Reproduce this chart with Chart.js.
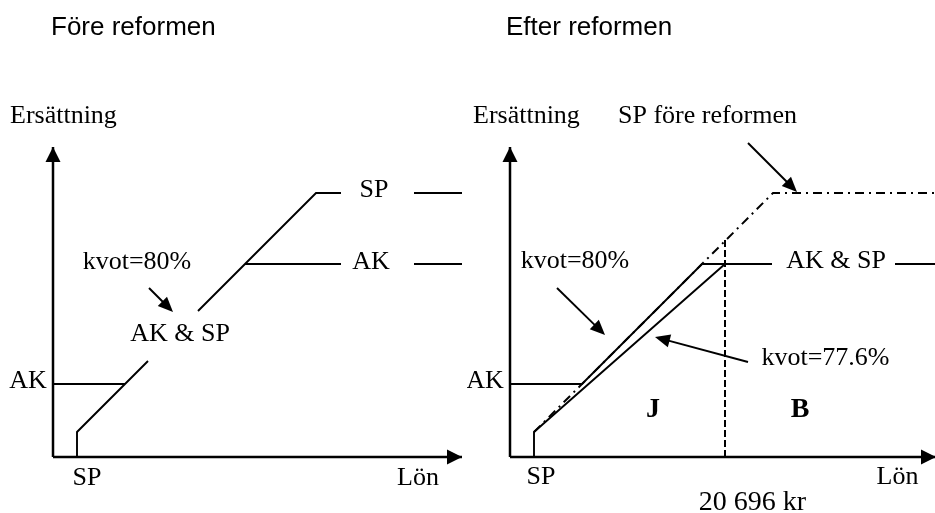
<!DOCTYPE html>
<html>
<head>
<meta charset="utf-8">
<script src="https://cdn.jsdelivr.net/npm/chart.js@4"></script>
<style>
    html, body { margin: 0; padding: 0; background: #fff; }
    #wrap { position: relative; width: 935px; height: 513px; overflow: hidden; }
    #fore { position: absolute; left: 0; top: 0; }
    #efter { position: absolute; left: 467px; top: 0; }
</style>
</head>
<body>
<div id="wrap">
    <canvas id="fore" width="467" height="513"></canvas>
    <canvas id="efter" width="468" height="513"></canvas>
</div>
<script>
// Schematiska kurvor, [lön, ersättning] (null = avbrott för text)
// Före reformen
const foreAxisX = [[0, 0], [40.9, 0]];
const foreAxisY = [[0, 0], [0, 31.0]];
const foreSP = [[2.4, 0], [2.4, 2.5], [9.5, 9.6], [9.5, null], [14.5, 14.6], [26.3, 26.4], [28.8, 26.4], [28.8, null], [36.1, 26.4], [40.9, 26.4]];
const foreAK = [[0, 7.3], [7.2, 7.3], [7.2, null], [19.2, 19.3], [28.8, 19.3], [28.8, null], [36.1, 19.3], [40.9, 19.3]];

// Efter reformen
const efterAxisX = [[0, 0], [42.6, 0]];
const efterAxisY = [[0, 0], [0, 31.0]];
const efterSP = [[2.4, 0], [2.4, 2.5], [21.5, 19.3], [26.2, 19.3], [26.2, null], [38.5, 19.3], [42.6, 19.3]];
const efterAK = [[0, 7.3], [7.2, 7.3], [19.2, 19.3], [26.2, 19.3]];
const spForeReformen = [[2.4, 2.5], [26.3, 26.4], [42.6, 26.4]];
const taket = [[21.5, 0], [21.5, 21.7]]; // 20 696 kr

const SERIF = '26px "Liberation Serif", "Times New Roman", serif';
const SANS = '26px "Liberation Sans", Arial, sans-serif';
const BOLD = 'bold 28px "Liberation Serif", "Times New Roman", serif';

function drawHead(ctx, x0, y0, x1, y1, len, half) {
    const a = Math.atan2(y1 - y0, x1 - x0);
    ctx.beginPath();
    ctx.moveTo(x1, y1);
    ctx.lineTo(x1 - len * Math.cos(a) + half * Math.sin(a), y1 - len * Math.sin(a) - half * Math.cos(a));
    ctx.lineTo(x1 - len * Math.cos(a) - half * Math.sin(a), y1 - len * Math.sin(a) + half * Math.cos(a));
    ctx.closePath();
    ctx.fill();
}

// Ritar pilar och texter i diagrammets koordinater
const diagramPlugin = {
    id: 'diagram',
    afterDatasetsDraw(chart, args, opts) {
        const ctx = chart.ctx;
        const px = v => chart.scales.x.getPixelForValue(v);
        const py = v => chart.scales.y.getPixelForValue(v);
        ctx.save();
        ctx.fillStyle = '#000';
        ctx.strokeStyle = '#000';

        // Pilspetsar på axlarna
        (opts.axes || []).forEach(a => {
            const n = a.length;
            drawHead(ctx, px(a[n - 2][0]), py(a[n - 2][1]), px(a[n - 1][0]), py(a[n - 1][1]), 15, 7.5);
        });

        // Pilar
        ctx.lineWidth = 1.9;
        (opts.arrows || []).forEach(a => {
            const x0 = px(a.from[0]), y0 = py(a.from[1]);
            const x1 = px(a.to[0]), y1 = py(a.to[1]);
            const ang = Math.atan2(y1 - y0, x1 - x0);
            ctx.beginPath();
            ctx.moveTo(x0, y0);
            ctx.lineTo(x1 - 12 * Math.cos(ang), y1 - 12 * Math.sin(ang));
            ctx.stroke();
            drawHead(ctx, x0, y0, x1, y1, 15, 6.5);
        });

        // Texter
        ctx.textBaseline = 'alphabetic';
        (opts.labels || []).forEach(l => {
            ctx.font = l.font || SERIF;
            ctx.textAlign = l.align || 'center';
            ctx.fillText(l.text, px(l.x), py(l.y));
        });
        ctx.restore();
    }
};

function line(data, width, dash) {
    return {
        data: data,
        showLine: true,
        pointRadius: 0,
        borderColor: '#000',
        borderWidth: width || 1.9,
        borderDash: dash || [],
        spanGaps: false,
        tension: 0,
        clip: false
    };
}

function createDiagram(canvasId, xRange, datasets, axes, arrows, labels) {
    return new Chart(document.getElementById(canvasId), {
        type: 'scatter',
        data: { datasets: datasets },
        options: {
            responsive: false,
            animation: false,
            events: [],
            layout: { padding: 0, autoPadding: false },
            scales: {
                x: { type: 'linear', display: false, min: xRange[0], max: xRange[1] },
                y: { type: 'linear', display: false, min: -5.6, max: 45.7 }
            },
            plugins: {
                legend: { display: false },
                tooltip: { enabled: false },
                diagram: { axes: axes, arrows: arrows, labels: labels }
            }
        },
        plugins: [diagramPlugin]
    });
}

createDiagram('fore', [-5.3, 41.4],
    [
        line(foreAxisX, 2.5),
        line(foreAxisY, 2.5),
        line(foreSP),
        line(foreAK)
    ],
    [foreAxisX, foreAxisY],
    [{ from: [9.6, 16.9], to: [12.0, 14.5] }],
    [
        { text: 'Före reformen', x: -0.2, y: 42.2, align: 'left', font: SANS },
        { text: 'Ersättning', x: -4.3, y: 33.4, align: 'left' },
        { text: 'kvot=80%', x: 8.4, y: 18.8 },
        { text: 'AK & SP', x: 12.7, y: 11.6 },
        { text: 'SP', x: 32.1, y: 26.0 },
        { text: 'AK', x: 31.8, y: 18.8 },
        { text: 'AK', x: -2.5, y: 6.9 },
        { text: 'SP', x: 3.4, y: -2.8 },
        { text: 'Lön', x: 36.5, y: -2.8 }
    ]
);

createDiagram('efter', [-4.3, 42.5],
    [
        line(efterAxisX, 2.5),
        line(efterAxisY, 2.5),
        line(efterSP),
        line(efterAK),
        line(spForeReformen, 2, [9, 5, 2, 5]),
        line(taket, 2, [7, 3])
    ],
    [efterAxisX, efterAxisY],
    [
        { from: [23.8, 31.4], to: [28.7, 26.5] },
        { from: [4.7, 16.9], to: [9.5, 12.2] },
        { from: [23.8, 9.5], to: [14.5, 12.0] }
    ],
    [
        { text: 'Efter reformen', x: -0.4, y: 42.2, align: 'left', font: SANS },
        { text: 'Ersättning', x: -3.7, y: 33.4, align: 'left' },
        { text: 'SP före reformen', x: 19.75, y: 33.4 },
        { text: 'kvot=80%', x: 6.5, y: 18.9 },
        { text: 'AK & SP', x: 32.6, y: 18.9 },
        { text: 'kvot=77.6%', x: 31.55, y: 9.2 },
        { text: 'AK', x: -2.5, y: 6.9 },
        { text: 'J', x: 14.3, y: 4.0, font: BOLD },
        { text: 'B', x: 29.0, y: 4.0, font: BOLD },
        { text: 'SP', x: 3.1, y: -2.7 },
        { text: 'Lön', x: 38.75, y: -2.7 },
        { text: '20 696 kr', x: 24.25, y: -5.3, font: '28px "Liberation Serif", "Times New Roman", serif' }
    ]
);
</script>
</body>
</html>
